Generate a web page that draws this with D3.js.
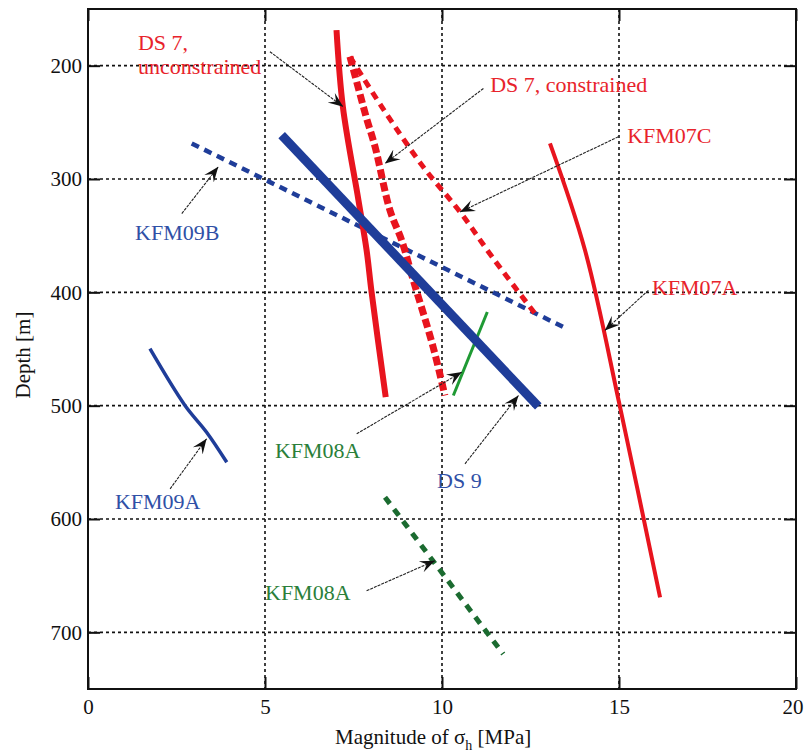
<!DOCTYPE html>
<html>
<head>
<meta charset="utf-8">
<script src="https://cdn.jsdelivr.net/npm/d3@7/dist/d3.min.js"></script>
<style>
html,body{margin:0;padding:0;background:#fff;}
svg{display:block;}
text{font-family:"Liberation Serif","Times New Roman",serif;}
</style>
</head>
<body>
<svg id="chart" width="805" height="756"></svg>
<script>
// ---- data (magnitude of sigma_h [MPa], depth [m]) ----
const xTicks = [0, 5, 10, 15, 20];
const yTicks = [200, 300, 400, 500, 600, 700];

const ds7Unconstrained = [[7.02,168.6],[7.20,236.3],[7.64,318.7],[7.87,362.9],[8.01,399.7],[8.41,492.5]];
const ds7Constrained   = [[7.40,192.1],[7.64,220.1],[7.87,246.6],[8.11,271.6],[8.53,327.6],[8.86,354.1],[9.19,389.4],[9.75,448.3],[10.08,491.0]];
const kfm07C           = [[7.40,192.1],[8.30,236.3],[9.47,289.3],[10.51,329.1],[11.45,370.2],[12.63,418.8]];
const kfm07A           = [[13.05,268.6],[14.04,362.9],[15.03,501.3],[16.16,669.2]];
const ds9              = [[5.47,261.3],[12.72,500.7]];
const kfm09B           = [[2.93,268.6],[13.43,430.7]];
const kfm09A           = [[1.75,449.7],[2.74,499.8],[3.35,523.4],[3.92,549.9]];
const kfm08A_solid     = [[10.32,491.0],[11.28,417.4]];
const kfm08A_dashed    = [[8.39,580.8],[11.73,719.2]];

// annotation labels: text, x, depth (left/baseline), colour
const labelTexts  = ["DS 7,","unconstrained","DS 7, constrained","KFM07C","KFM09B","KFM07A","KFM08A","DS 9","KFM09A","KFM08A"];
const labelX      = [1.41, 1.41, 11.36, 15.23, 1.33, 15.93, 5.28, 9.86, 0.76, 5.0];
const labelDepth  = [186.2, 207.4, 223.3, 268.4, 354.1, 402.7, 545.8, 572.3, 590.8, 671.2];
const labelKind   = ["red","red","red","red","blue","red","green","blue","blue","green"];

// annotation arrows: from (x,depth) to (x,depth)
const arrowFrom = [[5.14,187.7],[11.17,220.1],[14.98,262.8],[2.65,330.5],[15.83,398.2],[7.59,524.8],[10.65,551.3],[2.32,573.4],[7.87,663.3]];
const arrowTo   = [[7.21,236.3],[8.39,286.3],[10.51,329.1],[3.68,289.3],[14.60,433.6],[10.56,470.4],[12.16,491.0],[3.35,529.2],[9.80,636.8]];

// ---- drawing ----
const svg = d3.select("#chart");
const L = 88, R = 796, T = 9, B = 689;
const x = d3.scaleLinear().domain([0, 20]).range([L, R]);
const y = d3.scaleLinear().domain([150, 750]).range([T, B]);

const RED = "#e8141e", BLUE = "#1f3d99", GREEN = "#1f9a34", DGREEN = "#1b6b30";
const labelColour = {red:"#e8232b", blue:"#2f50a6", green:"#2b7f3a"};

// grid
const grid = svg.append("g");
grid.selectAll(".vg").data(xTicks.filter(t => t > 0 && t < 20)).join("line")
  .attr("x1", d => x(d)).attr("x2", d => x(d)).attr("y1", T).attr("y2", B)
  .attr("stroke", "#111").attr("stroke-width", 1.6).attr("stroke-dasharray", "3,3");
grid.selectAll(".hg").data(yTicks).join("line")
  .attr("x1", L).attr("x2", R).attr("y1", d => y(d)).attr("y2", d => y(d))
  .attr("stroke", "#111").attr("stroke-width", 1.6).attr("stroke-dasharray", "3,3");

// axes
const tick = 12;
const xAxis = d3.axisBottom(x).tickValues(xTicks).tickSizeInner(-tick).tickSizeOuter(0).tickPadding(10);
const yAxis = d3.axisLeft(y).tickValues(yTicks).tickSizeInner(-tick).tickSizeOuter(0).tickPadding(6);
const gx = svg.append("g").attr("transform", `translate(0,${B})`).call(xAxis);
const gy = svg.append("g").attr("transform", `translate(${L},0)`).call(yAxis);
const gxt = svg.append("g").attr("transform", `translate(0,${T})`).call(d3.axisTop(x).tickValues(xTicks).tickSizeInner(-tick).tickSizeOuter(0).tickFormat(""));
const gyr = svg.append("g").attr("transform", `translate(${R},0)`).call(d3.axisRight(y).tickValues(yTicks).tickSizeInner(-tick).tickSizeOuter(0).tickFormat(""));
[gx, gy, gxt, gyr].forEach(g => {
  g.attr("font-family", null);
  g.select(".domain").remove();
  g.selectAll(".tick line").attr("stroke", "#111").attr("stroke-width", 2);
  g.selectAll(".tick text").attr("fill", "#111").style("font-size", "21px")
   .style("font-family", '"Liberation Serif","Times New Roman",serif');
});
gx.selectAll(".tick text").filter(d => d === 20).attr("text-anchor", "end").attr("dx", 7);
svg.append("rect").attr("x", L).attr("y", T).attr("width", R - L).attr("height", B - T)
  .attr("fill", "none").attr("stroke", "#111").attr("stroke-width", 2);

// series lines
const line = d3.line().x(d => x(d[0])).y(d => y(d[1])).curve(d3.curveCatmullRom.alpha(0.5));
const series = [
  {pts: kfm09B, c: BLUE, w: 4.5, dash: "8,6"},
  {pts: kfm07C, c: RED, w: 5, dash: "8,6"},
  {pts: ds7Constrained, c: RED, w: 7, dash: "9,4"},
  {pts: ds7Unconstrained, c: RED, w: 6, dash: null},
  {pts: kfm07A, c: RED, w: 4, dash: null},
  {pts: kfm09A, c: BLUE, w: 3.5, dash: null},
  {pts: kfm08A_dashed, c: DGREEN, w: 5, dash: "8,7"},
  {pts: kfm08A_solid, c: GREEN, w: 3, dash: null},
  {pts: ds9, c: BLUE, w: 9, dash: null}
];
svg.append("g").selectAll("path").data(series).join("path")
  .attr("d", d => line(d.pts)).attr("fill", "none")
  .attr("stroke", d => d.c).attr("stroke-width", d => d.w)
  .attr("stroke-dasharray", d => d.dash)
  .attr("stroke-linecap", "butt").attr("stroke-linejoin", "round");

// arrows
const defs = svg.append("defs");
defs.append("marker").attr("id", "ah").attr("viewBox", "-15 -7 17 14")
  .attr("refX", 0).attr("refY", 0).attr("markerWidth", 17).attr("markerHeight", 14)
  .attr("markerUnits", "userSpaceOnUse").attr("orient", "auto")
  .append("path").attr("d", "M0,0 L-15,-6 L-9,0 L-15,6 Z").attr("fill", "#111");
svg.append("g").selectAll("line").data(arrowFrom.map((f, i) => [f, arrowTo[i]])).join("line")
  .attr("x1", d => x(d[0][0])).attr("y1", d => y(d[0][1]))
  .attr("x2", d => x(d[1][0])).attr("y2", d => y(d[1][1]))
  .attr("stroke", "#222").attr("stroke-width", 1.1).attr("stroke-dasharray", "3,1")
  .attr("marker-end", "url(#ah)");

// labels
svg.append("g").selectAll("text").data(labelTexts).join("text")
  .attr("x", (d, i) => x(labelX[i])).attr("y", (d, i) => y(labelDepth[i]))
  .attr("fill", (d, i) => labelColour[labelKind[i]])
  .style("font-size", "22px").text(d => d);

// axis titles
const xt = svg.append("text").attr("x", 335).attr("y", 744).attr("fill", "#111").style("font-size", "21px");
xt.append("tspan").text("Magnitude of σ");
xt.append("tspan").attr("dy", 6).style("font-size", "14px").text("h");
xt.append("tspan").attr("dy", -6).text(" [MPa]");
svg.append("text").attr("transform", `translate(30,${(T + B) / 2 + 6}) rotate(-90)`)
  .attr("text-anchor", "middle").attr("fill", "#111").style("font-size", "21px").text("Depth [m]");
</script>
</body>
</html>
